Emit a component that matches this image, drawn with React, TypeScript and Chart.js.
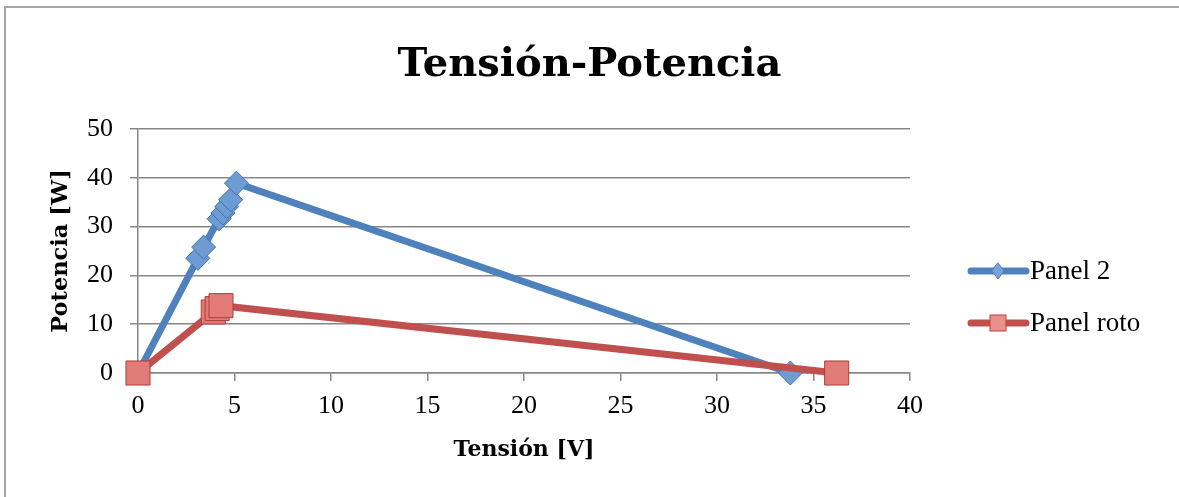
import React, { useEffect, useRef } from "react";
import { Chart, registerables } from "chart.js";

Chart.register(...registerables);

const panel2Voltage = [0, 3.1, 3.4, 4.2, 4.4, 4.6, 4.8, 5.1, 33.8];
const panel2Power = [0, 23.5, 25.8, 31.6, 32.8, 34.1, 35.5, 38.9, 0];
const rotoVoltage = [0, 3.9, 4.1, 4.3, 36.2];
const rotoPower = [0, 12.5, 13.2, 13.8, 0];
const seriesNames = ["Panel 2", "Panel roto"];
const chartTitle = "Tensión-Potencia";
const xTitle = "Tensión [V]";
const yTitle = "Potencia [W]";

const BLUE = "#4F81BD";
const RED = "#C0504D";
const FONT = "'Liberation Serif', 'DejaVu Serif', serif";
const BOLD_FONT = "'DejaVu Serif', 'Liberation Serif', serif";

const framePlugin = {
  id: "frame",
  beforeDraw(chart: any) {
    const ctx = chart.ctx;
    ctx.save();
    ctx.fillStyle = "#ffffff";
    ctx.fillRect(0, 0, chart.width, chart.height);
    ctx.strokeStyle = "#a6a6a6";
    ctx.lineWidth = 2;
    ctx.beginPath();
    ctx.moveTo(5, chart.height);
    ctx.lineTo(5, 7);
    ctx.lineTo(chart.width, 7);
    ctx.stroke();
    ctx.restore();
  },
};

const legendPlugin = {
  id: "customLegend",
  afterDraw(chart: any) {
    const ctx = chart.ctx;
    const items = [
      { name: seriesNames[0], color: BLUE, marker: "diamond", y: 271 },
      { name: seriesNames[1], color: RED, marker: "square", y: 323 },
    ];
    ctx.save();
    for (const it of items) {
      ctx.strokeStyle = it.color;
      ctx.lineWidth = 7;
      ctx.lineCap = "round";
      ctx.beginPath();
      ctx.moveTo(971, it.y);
      ctx.lineTo(1026, it.y);
      ctx.stroke();
      const cx = 998;
      if (it.marker === "diamond") {
        ctx.fillStyle = "#77A3D8";
        ctx.strokeStyle = "#4A7EBB";
        ctx.lineWidth = 1;
        ctx.beginPath();
        ctx.moveTo(cx, it.y - 8);
        ctx.lineTo(cx + 6, it.y);
        ctx.lineTo(cx, it.y + 8);
        ctx.lineTo(cx - 6, it.y);
        ctx.closePath();
        ctx.fill();
        ctx.stroke();
      } else {
        ctx.fillStyle = "#E8908D";
        ctx.strokeStyle = "#B9403D";
        ctx.lineWidth = 1;
        ctx.fillRect(cx - 8, it.y - 8, 16, 16);
        ctx.strokeRect(cx - 8, it.y - 8, 16, 16);
      }
      ctx.fillStyle = "#000";
      ctx.font = `27px ${FONT}`;
      ctx.textBaseline = "middle";
      ctx.textAlign = "left";
      ctx.fillText(it.name, 1030, it.y + 1);
    }
    ctx.restore();
  },
};

export default function App() {
  const ref = useRef<HTMLCanvasElement>(null);
  useEffect(() => {
    const canvas = ref.current!;
    const chart = new Chart(canvas, {
      type: "scatter",
      data: {
        datasets: [
          {
            label: seriesNames[0],
            data: panel2Voltage.map((x, i) => ({ x, y: panel2Power[i] })),
            showLine: true,
            clip: false,
            order: 1,
            borderColor: BLUE,
            borderWidth: 7,
            backgroundColor: "#6E9BD1",
            pointStyle: "rectRot",
            pointRadius: 12,
            pointBorderColor: "#3F74B4",
            pointBorderWidth: 1,
            pointBackgroundColor: "#6E9BD1",
          },
          {
            label: seriesNames[1],
            data: rotoVoltage.map((x, i) => ({ x, y: rotoPower[i] })),
            showLine: true,
            clip: false,
            order: 0,
            borderColor: RED,
            borderWidth: 7,
            backgroundColor: "#E07B78",
            pointStyle: "rect",
            pointRadius: 17,
            pointBorderColor: "#B03C39",
            pointBorderWidth: 1,
            pointBackgroundColor: "#E07B78",
          },
        ],
      },
      options: {
        animation: false,
        responsive: false,
        maintainAspectRatio: false,
        layout: { padding: 0 },
        plugins: {
          legend: { display: false },
          tooltip: { enabled: false },
          title: {
            display: true,
            text: chartTitle,
            color: "#000",
            font: { family: BOLD_FONT, size: 40, weight: "bold", lineHeight: 1.2 },
            padding: { top: 42, bottom: 39 },
          },
        },
        scales: {
          x: {
            type: "linear",
            min: 0,
            max: 40,
            afterFit(scale: any) {
              scale.height = 124;
            },
            ticks: {
              stepSize: 5,
              color: "#000",
              font: { family: FONT, size: 26 },
              padding: 10,
            },
            grid: {
              drawOnChartArea: false,
              drawTicks: true,
              tickLength: 8,
              color: "#878787",
              lineWidth: 1.5,
            },
            border: { color: "#878787", width: 1.5 },
            title: {
              display: true,
              text: xTitle,
              color: "#000",
              font: { family: BOLD_FONT, size: 22, weight: "bold" },
              padding: { top: 0, bottom: 34 },
            },
          },
          y: {
            type: "linear",
            min: 0,
            max: 50,
            afterFit(scale: any) {
              scale.width = 138;
            },
            ticks: {
              stepSize: 10,
              color: "#000",
              font: { family: FONT, size: 26 },
              padding: 17,
            },
            grid: {
              drawTicks: true,
              tickLength: 8,
              color: "#878787",
              lineWidth: 1.5,
            },
            border: { color: "#878787", width: 1.5 },
            title: {
              display: true,
              text: yTitle,
              color: "#000",
              font: { family: BOLD_FONT, size: 22.5, weight: "bold" },
              padding: { top: 48, bottom: 0 },
            },
          },
          spacer: {
            type: "linear",
            position: "right",
            min: 0,
            max: 1,
            afterFit(scale: any) {
              scale.width = 269;
            },
            ticks: { display: false },
            grid: { display: false, drawTicks: false },
            border: { display: false },
          },
        },
      },
      plugins: [framePlugin, legendPlugin],
    });
    return () => chart.destroy();
  }, []);
  return (
    <div style={{ position: "fixed", left: 0, top: 0, width: 1179, height: 497 }}>
      <canvas ref={ref} width={1179} height={497} style={{ width: 1179, height: 497, display: "block" }} />
    </div>
  );
}
